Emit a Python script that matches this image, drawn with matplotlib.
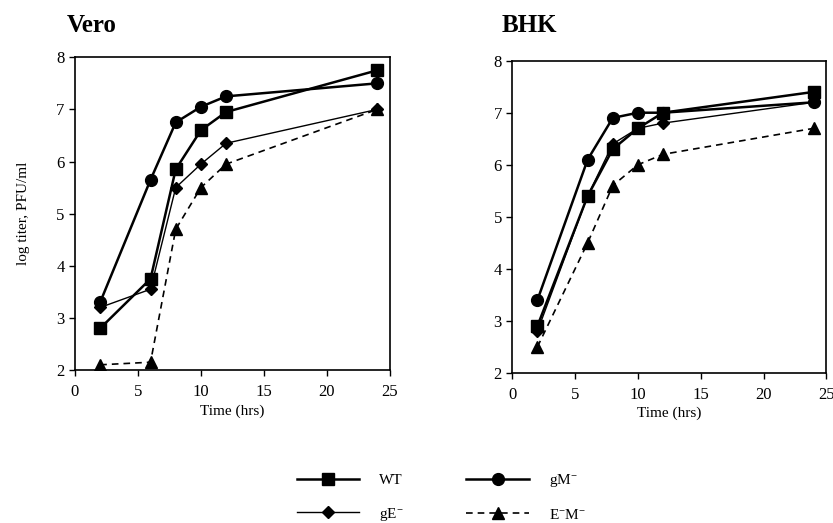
import matplotlib.pyplot as plt

plt.rcParams['font.family'] = ['Liberation Serif', 'DejaVu Serif']
plt.rcParams['mathtext.fontset'] = 'custom'
plt.rcParams['mathtext.rm'] = 'Liberation Serif'
plt.rcParams['mathtext.default'] = 'regular'

hours = [2, 6, 8, 10, 12, 24]

# Vero cells
vero_wt = [2.8, 3.75, 5.85, 6.6, 6.95, 7.75]
vero_gm = [3.3, 5.65, 6.75, 7.05, 7.25, 7.5]
vero_ge = [3.2, 3.55, 5.5, 5.95, 6.35, 7.0]
vero_em = [2.1, 2.15, 4.7, 5.5, 5.95, 7.0]

# BHK cells
bhk_wt = [2.9, 5.4, 6.3, 6.7, 7.0, 7.4]
bhk_gm = [3.4, 6.1, 6.9, 7.0, 7.0, 7.2]
bhk_ge = [2.8, 5.4, 6.4, 6.7, 6.8, 7.2]
bhk_em = [2.5, 4.5, 5.6, 6.0, 6.2, 6.7]

labels = ['WT', 'gM$^{-}$', 'gE$^{-}$', 'E$^{-}$M$^{-}$']


def draw_panel(ax, wt, gm, ge, em):
    h1, = ax.plot(hours, wt, '-', color='black', lw=1.8, marker='s', ms=8)
    h2, = ax.plot(hours, gm, '-', color='black', lw=1.8, marker='o', ms=8.5)
    h3, = ax.plot(hours, ge, '-', color='black', lw=1.0, marker='D', ms=6)
    h4, = ax.plot(hours, em, '--', color='black', lw=1.2, marker='^', ms=8,
                  dashes=(4, 3))
    ax.set_xlim(0, 25)
    ax.set_ylim(2, 8)
    ax.set_xticks([0, 5, 10, 15, 20, 25])
    ax.set_yticks([2, 3, 4, 5, 6, 7, 8])
    ax.tick_params(direction='out', length=4, width=1, labelsize=12,
                   right=False, top=False)
    ax.tick_params(axis='x', pad=6)
    for s in ax.spines.values():
        s.set_linewidth(1.2)
    ax.set_xlabel('Time (hrs)', fontsize=11, labelpad=3)
    return [h1, h2, h3, h4]


fig = plt.figure(figsize=(8.33, 5.23), dpi=100)
ax1 = fig.add_axes([0.090, 0.2925, 0.378, 0.598])
ax2 = fig.add_axes([0.615, 0.287, 0.377, 0.597])

handles = draw_panel(ax1, vero_wt, vero_gm, vero_ge, vero_em)
draw_panel(ax2, bhk_wt, bhk_gm, bhk_ge, bhk_em)
ax1.set_ylabel('log titer, PFU/ml', fontsize=11, labelpad=19)

fig.text(67 / 833, 1 - 25 / 523, 'Vero', fontsize=18, fontweight='bold',
         ha='left', va='center')
fig.text(502 / 833, 1 - 25 / 523, 'BHK', fontsize=18, fontweight='bold',
         ha='left', va='center')

# legend order: WT, gE in first column; gM, EM in second column
order = [0, 2, 1, 3]
fig.legend([handles[i] for i in order], [labels[i] for i in order],
           ncol=2, loc='upper left', bbox_to_anchor=(0.356, 0.097),
           frameon=False, fontsize=11, handlelength=4.1, numpoints=1,
           columnspacing=4.1, labelspacing=1.2, handletextpad=1.3,
           borderaxespad=0, borderpad=0)

fig.savefig('out.png', dpi=100)
